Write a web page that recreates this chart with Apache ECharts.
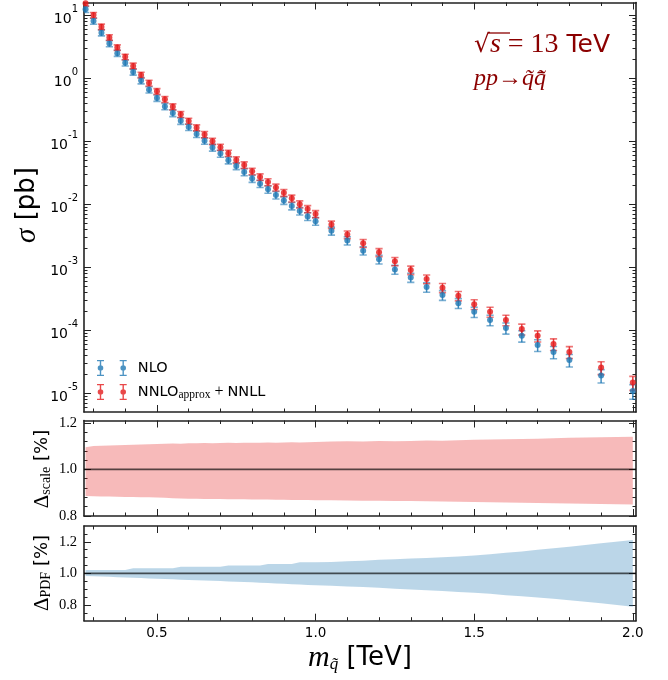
<!DOCTYPE html>
<html><head><meta charset="utf-8">
<script src="https://cdn.jsdelivr.net/npm/echarts@6/dist/echarts.min.js"></script>
<style>html,body{margin:0;padding:0;background:#fff}#c{width:668px;height:680px}</style>
</head><body><div id="c"></div>
<script>
// ---------------- data ----------------
const massTeV = [0.275,0.3,0.325,0.35,0.375,0.4,0.425,0.45,0.475,0.5,0.525,0.55,0.575,0.6,0.625,0.65,0.675,0.7,0.725,0.75,0.775,0.8,0.825,0.85,0.875,0.9,0.925,0.95,0.975,1.0,
  1.05,1.1,1.15,1.2,1.25,1.3,1.35,1.4,1.45,1.5,1.55,1.6,1.65,1.7,1.75,1.8,1.9,2.0];
const nloXsec = [12.5,8.1,5.3,3.57,2.51,1.76,1.26,0.92,0.66,0.486,0.358,0.28,0.211,0.168,0.130,0.1016,0.0795,0.0638,0.0499,0.0405,0.0325,0.0255,0.0212,0.0172,0.0140,0.0115,0.0094,0.0078,0.0064,0.00537,
  0.00377,0.00264,0.00183,0.00133,0.00092,0.000687,0.000482,0.00036,0.000268,0.000195,0.000145,0.000108,8.1e-5,5.8e-5,4.5e-5,3.35e-5,1.9e-5,1.08e-5];
const nnloXsec = [15.6,10.1,6.6,4.46,3.09,2.19,1.575,1.13,0.843,0.621,0.463,0.354,0.268,0.209,0.164,0.128,0.100,0.0805,0.0646,0.0505,0.042,0.0333,0.0271,0.0225,0.0185,0.0152,0.0124,0.0100,0.0084,0.0070,
  0.00475,0.0033,0.0024,0.00172,0.00124,0.0009,0.000647,0.000471,0.000351,0.000258,0.000195,0.000145,0.000104,8.1e-5,6.0e-5,4.5e-5,2.55e-5,1.47e-5];
const nloErrPct = [11,11,11,11,11,11,11,11.5,11.5,11.5,11.5,12,12,12,12,12,12.5,12.5,12.5,12.5,13,13,13,13,13.5,13.5,13.5,13.5,14,14,
  14.5,15,15,15.5,16,16.5,17,17.5,18,18.5,19,20,20.5,21,22,22.5,24,26];
const nnloErrPct = [10,10,10,10,10,10,10.5,10.5,10.5,10.5,11,11,11,11,11,11.5,11.5,11.5,11.5,12,12,12,12,12.5,12.5,12.5,12.5,13,13,13,
  13.5,14,14.5,14.5,15,15.5,16,16.5,17,17.5,18,19,19.5,20,21,21.5,23,25];
const scaleUp = [1.095,1.100,1.102,1.103,1.104,1.105,1.106,1.107,1.108,1.109,1.110,1.111,1.110,1.112,1.112,1.113,1.112,1.113,1.114,1.113,1.114,1.115,1.114,1.116,1.115,1.116,1.117,1.116,1.117,1.118,
  1.120,1.121,1.120,1.122,1.121,1.122,1.124,1.123,1.125,1.127,1.128,1.130,1.131,1.132,1.134,1.136,1.138,1.140];
const scaleDn = [0.886,0.885,0.884,0.884,0.883,0.882,0.882,0.881,0.880,0.879,0.878,0.876,0.875,0.874,0.874,0.873,0.873,0.873,0.872,0.872,0.872,0.871,0.871,0.871,0.870,0.870,0.869,0.869,0.869,0.868,
  0.868,0.867,0.866,0.865,0.864,0.864,0.863,0.862,0.861,0.860,0.859,0.858,0.857,0.856,0.855,0.854,0.851,0.849];
const pdfUp = [1.021,1.021,1.021,1.021,1.021,1.021,1.033,1.033,1.033,1.033,1.033,1.033,1.042,1.042,1.042,1.042,1.042,1.042,1.050,1.050,1.050,1.050,1.050,1.060,1.060,1.060,1.060,1.070,1.070,1.070,
  1.072,1.077,1.080,1.086,1.089,1.094,1.098,1.102,1.107,1.113,1.121,1.130,1.139,1.149,1.159,1.168,1.190,1.211];
const pdfDn = [0.984,0.982,0.980,0.978,0.976,0.974,0.972,0.970,0.968,0.966,0.964,0.962,0.960,0.958,0.957,0.955,0.953,0.951,0.949,0.947,0.945,0.943,0.941,0.939,0.936,0.934,0.931,0.929,0.926,0.924,
  0.921,0.917,0.913,0.908,0.903,0.898,0.893,0.888,0.882,0.877,0.870,0.862,0.855,0.847,0.839,0.830,0.810,0.788];
const xMajorTicks = [0.5,1.0,1.5,2.0];
const xMinorTicks = [0.3,0.4,0.6,0.7,0.8,0.9,1.1,1.2,1.3,1.4,1.6,1.7,1.8,1.9];
const yMainMajor = [1e-5,1e-4,1e-3,1e-2,1e-1,1,10];
const yMainMinor = [6e-6,7e-6,8e-6,9e-6];
for (let e=-5;e<=0;e++) for (let k=2;k<=9;k++) yMainMinor.push(k*Math.pow(10,e));
const ratioMajor = [0.8,1.0,1.2];
const scaleMinor = [0.84,0.88,0.92,0.96,1.04,1.08,1.12,1.16];
const pdfMinor = [0.75,0.85,0.9,0.95,1.05,1.1,1.15,1.25];

// ---------------- style ----------------
const BLUE = '#1f78b4', RED = '#e31a1c';
const X_MIN = 0.27, X_MAX = 2.01;
const FRAME = {color:'#222', width:1.6};
const SANS = 'DejaVu Sans', SERIF = 'Liberation Serif';

function xAxesFor(g, showLabels) {
  const base = {type:'value', gridIndex:g, min:X_MIN, max:X_MAX, splitLine:{show:false}, axisLabel:{show:false}};
  const major = {show:true, inside:true, length:7, customValues:xMajorTicks, lineStyle:{color:'#222', width:1}};
  const minor = {show:true, inside:true, length:3.5, customValues:xMinorTicks, lineStyle:{color:'#222', width:1}};
  return [
    Object.assign({}, base, {position:'bottom', axisLine:{show:true, onZero:false, lineStyle:FRAME}, axisTick:major,
      axisLabel: showLabels ? {show:true, customValues:xMajorTicks, margin:6, fontFamily:SANS, fontSize:13.5, color:'#000',
        formatter:v=>v.toFixed(1)} : {show:false}}),
    Object.assign({}, base, {position:'bottom', axisLine:{show:false, onZero:false}, axisTick:minor}),
    Object.assign({}, base, {position:'top', axisLine:{show:true, onZero:false, lineStyle:FRAME}, axisTick:major}),
    Object.assign({}, base, {position:'top', axisLine:{show:false, onZero:false}, axisTick:minor}),
  ];
}
function yAxesFor(g, type, min, max, majors, minors, label) {
  const base = {type:type, gridIndex:g, min:min, max:max, splitLine:{show:false}, axisLabel:{show:false}};
  if (type==='log') base.logBase = 10;
  const major = {show:true, inside:true, length:7, customValues:majors, lineStyle:{color:'#222', width:1}};
  const minor = {show:true, inside:true, length:3.5, customValues:minors, lineStyle:{color:'#222', width:1}};
  return [
    Object.assign({}, base, {position:'left', axisLine:{show:true, onZero:false, lineStyle:FRAME}, axisTick:major,
      axisLabel:Object.assign({show:true, customValues:majors}, label)}),
    Object.assign({}, base, {position:'left', axisLine:{show:false, onZero:false}, axisTick:minor}),
    Object.assign({}, base, {position:'right', axisLine:{show:true, onZero:false, lineStyle:FRAME}, axisTick:major}),
    Object.assign({}, base, {position:'right', axisLine:{show:false, onZero:false}, axisTick:minor}),
  ];
}

const logLabel = {margin:6, color:'#000', formatter:v=>'{b|10}{s|'+Math.round(Math.log10(v))+'}',
  rich:{b:{fontFamily:SANS, fontSize:14, color:'#000', lineHeight:22, verticalAlign:'bottom'},
        s:{fontFamily:SANS, fontSize:10, color:'#000', verticalAlign:'top', lineHeight:12}}};
const ratioLabel = {margin:7, color:'#000', fontFamily:SERIF, fontSize:14.5, formatter:v=>v.toFixed(1)};

function errSeries(name, xs, errs, color) {
  return {type:'custom', name:name, xAxisIndex:0, yAxisIndex:0, clip:true, silent:true, z:3,
    data: massTeV.map((m,i)=>[m, xs[i], xs[i]*(1-errs[i]/100), xs[i]*(1+errs[i]/100)]),
    encode:{x:0, y:[1,2,3]},
    renderItem(params, api) {
      const hi = api.coord([api.value(0), api.value(3)]);
      const lo = api.coord([api.value(0), api.value(2)]);
      const c = 3.6;
      return {type:'group', children:[
        {type:'line', shape:{x1:hi[0],y1:hi[1],x2:lo[0],y2:lo[1]}, style:{stroke:color, lineWidth:1.5, opacity:0.85}},
        {type:'line', shape:{x1:hi[0]-c,y1:hi[1],x2:hi[0]+c,y2:hi[1]}, style:{stroke:color, lineWidth:1.6, opacity:0.6}},
        {type:'line', shape:{x1:lo[0]-c,y1:lo[1],x2:lo[0]+c,y2:lo[1]}, style:{stroke:color, lineWidth:1.6, opacity:0.6}}
      ]};
    }};
}
function bandSeries(g, up, dn, color) {
  return {type:'custom', xAxisIndex:4*g, yAxisIndex:4*g, silent:true, z:1,
    data: massTeV.map((m,i)=>[m, dn[i], up[i]]), encode:{x:0, y:[1,2]},
    renderItem(params, api) {
      if (params.dataIndex !== 0) return null;
      const pts = [];
      for (let i=0;i<massTeV.length;i++) pts.push(api.coord([massTeV[i], up[i]]));
      for (let i=massTeV.length-1;i>=0;i--) pts.push(api.coord([massTeV[i], dn[i]]));
      return {type:'polygon', shape:{points:pts}, style:{fill:color}};
    }};
}
function unitLine(g) {
  return {type:'line', xAxisIndex:4*g, yAxisIndex:4*g, data:[[X_MIN,1],[X_MAX,1]], symbol:'none', silent:true, z:2,
    lineStyle:{color:'#000', width:1.6, opacity:0.65}};
}

function legIcon() {
  const part = c => {
    const r = 2.8;
    return `M${c-3.5} 0H${c+3.5}V1.3H${c-3.5}Z M${c-0.7} 0H${c+0.7}V16H${c-0.7}Z M${c-3.5} 14.7H${c+3.5}V16H${c-3.5}Z ` +
      `M${c-r} 8A${r} ${r} 0 1 1 ${c+r} 8A${r} ${r} 0 1 1 ${c-r} 8Z`;
  };
  return 'path://' + part(3.5) + ' ' + part(26.2);
}

const chart = echarts.init(document.getElementById('c'), null, {renderer:'canvas'});
const option = {
  animation:false,
  backgroundColor:'#fff',
  grid:[
    {left:84, top:2.5, width:552, height:409.5},
    {left:84, top:420.5, width:552, height:95.5},
    {left:84, top:526, width:552, height:94.7}
  ],
  xAxis:[].concat(xAxesFor(0,false), xAxesFor(1,false), xAxesFor(2,true)),
  yAxis:[].concat(
    yAxesFor(0,'log',5e-6,16,yMainMajor,yMainMinor,logLabel),
    yAxesFor(1,'value',0.8,1.21,ratioMajor,scaleMinor,ratioLabel),
    yAxesFor(2,'value',0.7,1.3,ratioMajor,pdfMinor,ratioLabel)),
  legend:{
    data:['NLO','NNLO'], orient:'vertical', left:92, top:355, itemWidth:30, itemHeight:16, itemGap:8,
    icon:legIcon(), selectedMode:false,
    textStyle:{fontFamily:SANS, fontSize:14.5, color:'#000', padding:[0,0,0,6],
      rich:{sub:{fontFamily:SERIF, fontSize:11.5, color:'#000', padding:[6,0,0,0]},
            op:{fontFamily:SERIF, fontSize:16, color:'#000'}}},
    formatter: n => n==='NLO' ? 'NLO' : 'NNLO{sub|approx}{op| + }NNLL'
  },
  graphic:[
    {type:'text', x:27, y:205, rotation:Math.PI/2, style:{text:'{i|σ} [pb]', align:'center', verticalAlign:'middle',
      fontFamily:SANS, fontSize:26, fill:'#000', rich:{i:{fontFamily:SERIF, fontStyle:'italic', fontSize:29}}}},
    {type:'text', x:42, y:469, rotation:Math.PI/2, style:{text:'{d|Δ}{sub|scale} [%]', align:'center', verticalAlign:'middle',
      fontFamily:SANS, fontSize:18, fill:'#000', rich:{d:{fontFamily:SERIF, fontSize:21}, sub:{fontFamily:SERIF, fontSize:14, padding:[8,0,0,0]}}}},
    {type:'text', x:42, y:573, rotation:Math.PI/2, style:{text:'{d|Δ}{sub|PDF} [%]', align:'center', verticalAlign:'middle',
      fontFamily:SANS, fontSize:18, fill:'#000', rich:{d:{fontFamily:SERIF, fontSize:21}, sub:{fontFamily:SERIF, fontSize:14, padding:[8,0,0,0]}}}},
    {type:'text', x:360, y:658, style:{text:'{i|m}{sub|q̃} [TeV]', align:'center', verticalAlign:'middle',
      fontFamily:SANS, fontSize:26, fill:'#000', rich:{i:{fontFamily:SERIF, fontStyle:'italic', fontSize:30}, sub:{fontFamily:SERIF, fontStyle:'italic', fontSize:17, padding:[13,0,0,0]}}}},
    {type:'text', x:474, y:45, style:{text:'{r|√}{s|s}{m| = 13} TeV', align:'left', verticalAlign:'middle',
      fontFamily:SANS, fontSize:25, fill:'#8b0000', rich:{r:{fontFamily:SANS, fontSize:25}, s:{fontFamily:SERIF, fontStyle:'italic', fontSize:28}, m:{fontFamily:SERIF, fontSize:28}}}},
    {type:'line', shape:{x1:488, y1:33, x2:510, y2:33}, style:{stroke:'#8b0000', lineWidth:1.3}},
    {type:'text', x:474, y:79, style:{text:'pp→q̃q̃̄', align:'left', verticalAlign:'middle',
      fontFamily:SERIF, fontStyle:'italic', fontSize:24, fill:'#8b0000'}}
  ],
  series:[
    bandSeries(1, scaleUp, scaleDn, 'rgba(227,26,28,0.3)'),
    unitLine(1),
    bandSeries(2, pdfUp, pdfDn, 'rgba(31,120,180,0.3)'),
    unitLine(2),
    errSeries('nloErr', nloXsec, nloErrPct, BLUE),
    {type:'scatter', name:'NLO', xAxisIndex:0, yAxisIndex:0, symbol:'circle', symbolSize:6, z:4,
      itemStyle:{color:BLUE}, data:massTeV.map((m,i)=>[m, nloXsec[i]])},
    errSeries('nnloErr', nnloXsec, nnloErrPct, RED),
    {type:'scatter', name:'NNLO', xAxisIndex:0, yAxisIndex:0, symbol:'circle', symbolSize:6, z:5,
      itemStyle:{color:RED}, data:massTeV.map((m,i)=>[m, nnloXsec[i]])}
  ]
};
chart.setOption(option);
</script></body></html>
